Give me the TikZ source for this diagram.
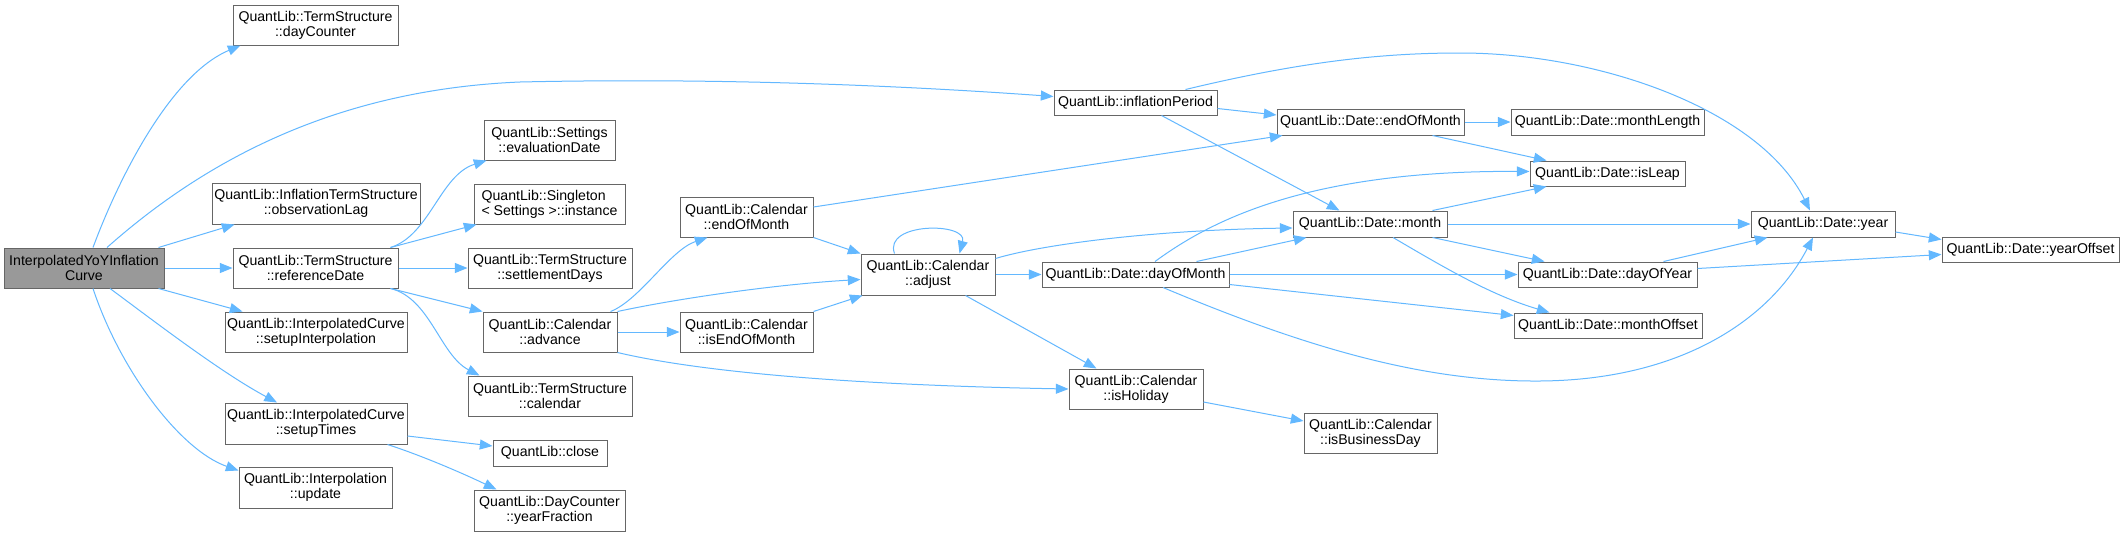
\documentclass[tikz,border=0pt]{standalone}
\usepackage{fontspec}
\setmainfont{Liberation Sans}
\usetikzlibrary{arrows.meta}
\definecolor{edgeblue}{HTML}{63B8FF}
\definecolor{boxborder}{HTML}{666666}
\definecolor{rootfill}{HTML}{999999}
\tikzset{
  box/.style={draw=boxborder, fill=white, inner sep=0pt, line width=0.75pt,
    font=\fontsize{10.6}{11.25}\selectfont, align=center},
  edge/.style={draw=edgeblue, line width=0.75pt,
    -{Triangle[length=9.5pt,width=7.5pt]}},
}
\newcommand{\bnode}[7][]{\node[box,#1,minimum width={(#5-#3)*0.75pt},minimum height={(#6-#4)*0.75pt}] (#2) at ({(#3+#5)/2},{(#4+#6)/2}) {#7};}
\begin{document}
\begin{tikzpicture}[x=0.75pt,y=-0.75pt]
\useasboundingbox[fill=white] (0,0) rectangle (2124,536);
\bnode[fill=rootfill]{root}{4}{248}{164}{288}{InterpolatedYoYInflation\\Curve}
\bnode{dc}{233}{5}{398}{45}{QuantLib::TermStructure\\::dayCounter}
\bnode{ol}{212}{183}{420}{224}{QuantLib::InflationTermStructure\\::observationLag}
\bnode{rd}{233}{248}{398}{288}{QuantLib::TermStructure\\::referenceDate}
\bnode{si}{225}{312}{407}{352}{QuantLib::InterpolatedCurve\\::setupInterpolation}
\bnode{st}{225}{403}{407}{444}{QuantLib::InterpolatedCurve\\::setupTimes}
\bnode{iu}{239}{467}{392}{508}{QuantLib::Interpolation\\::update}
\bnode{ed}{484}{120}{615}{160}{QuantLib::Settings\\::evaluationDate}
\bnode[align=left]{sg}{474}{184}{625}{224}{QuantLib::Singleton\\< Settings >::instance}
\bnode{sd}{468}{248}{632}{288}{QuantLib::TermStructure\\::settlementDays}
\bnode{ca}{483}{312}{617}{352}{QuantLib::Calendar\\::advance}
\bnode{tc}{468}{376}{632}{416}{QuantLib::TermStructure\\::calendar}
\bnode{cl}{493}{440}{607}{466}{QuantLib::close}
\bnode{yf}{474}{490}{625}{531}{QuantLib::DayCounter\\::yearFraction}
\bnode{ce}{680}{197}{813}{237}{QuantLib::Calendar\\::endOfMonth}
\bnode{ie}{680}{312}{813}{352}{QuantLib::Calendar\\::isEndOfMonth}
\bnode{ip}{1054}{90}{1217}{115}{QuantLib::inflationPeriod}
\bnode{aj}{861}{254}{995}{295}{QuantLib::Calendar\\::adjust}
\bnode{dm}{1042}{262}{1229}{287}{QuantLib::Date::dayOfMonth}
\bnode{ih}{1069}{369}{1203}{409}{QuantLib::Calendar\\::isHoliday}
\bnode{de}{1277}{109}{1464}{135}{QuantLib::Date::endOfMonth}
\bnode{ml}{1511}{109}{1704}{135}{QuantLib::Date::monthLength}
\bnode{il}{1530}{161}{1685}{186}{QuantLib::Date::isLeap}
\bnode{mo}{1293}{211}{1447}{237}{QuantLib::Date::month}
\bnode{dy}{1518}{262}{1697}{287}{QuantLib::Date::dayOfYear}
\bnode{mf}{1514}{313}{1702}{338}{QuantLib::Date::monthOffset}
\bnode{bd}{1304}{413}{1437}{453}{QuantLib::Calendar\\::isBusinessDay}
\bnode{yr}{1751}{211}{1895}{237}{QuantLib::Date::year}
\bnode{yo}{1942}{237}{2119}{262}{QuantLib::Date::yearOffset}
% root edges
\draw[edge] ([shift={(9,0)}]root.north) .. controls (118,180) and (170,75) .. ([shift={(8,0)}]dc.south west);
\draw[edge] ([shift={(23,0)}]root.north) .. controls (200,165) and (330,90) .. (520,82) .. controls (700,78) and (880,84) .. ([shift={(0,-6)}]ip.west);
\draw[edge] ([shift={(-6,0)}]root.north east) -- ([shift={(23,0)}]ol.south west);
\draw[edge] (root.east) -- (rd.west);
\draw[edge] ([shift={(-6,0)}]root.south east) -- ([shift={(18,0)}]si.north west);
\draw[edge] ([shift={(26,0)}]root.south) .. controls (150,318) and (220,372) .. ([shift={(-39,0)}]st.north);
\draw[edge] ([shift={(9,0)}]root.south) .. controls (120,370) and (180,450) .. ([shift={(0,4)}]iu.north west);
% referenceDate edges
\draw[edge] ([shift={(-8,0)}]rd.north east) .. controls (430,235) and (440,175) .. ([shift={(3,0)}]ed.south west);
\draw[edge] ([shift={(-8,0)}]rd.north east) -- ([shift={(3,0)}]sg.south west);
\draw[edge] (rd.east) -- (sd.west);
\draw[edge] ([shift={(-8,0)}]rd.south east) -- (ca.north west);
\draw[edge] ([shift={(-8,0)}]rd.south east) .. controls (430,298) and (440,355) .. ([shift={(12,0)}]tc.north west);
% setupTimes edges
\draw[edge] ([shift={(0,12.5)}]st.east) -- ([shift={(0,-7)}]cl.west);
\draw[edge] ([shift={(-20,0)}]st.south east) .. controls (420,455) and (460,472) .. ([shift={(23,0)}]yf.north west);
% advance edges
\draw[edge] ([shift={(-7,0)}]ca.north east) .. controls (640,300) and (670,250) .. ([shift={(28,0)}]ce.south west);
\draw[edge] (ca.north east) .. controls (680,298) and (780,284) .. ([shift={(0,5)}]aj.west);
\draw[edge] (ca.east) -- (ie.west);
\draw[edge] (ca.south east) .. controls (700,372) and (850,385) .. (ih.west);
% Calendar::endOfMonth / isEndOfMonth
\draw[edge] ([shift={(0,-10)}]ce.east) -- ([shift={(6,0)}]de.south west);
\draw[edge] (ce.south east) -- (aj.north west);
\draw[edge] (ie.north east) -- ([shift={(2,0)}]aj.south west);
% adjust edges
\draw[edge] ([shift={(34,0)}]aj.north west) .. controls (883,222) and (968,222) .. ([shift={(99,0)}]aj.north west);
\draw[edge] ([shift={(0,-16)}]aj.east) .. controls (1040,245) and (1150,230) .. ([shift={(0,4)}]mo.west);
\draw[edge] (aj.east) -- (dm.west);
\draw[edge] ([shift={(-30,0)}]aj.south east) -- ([shift={(28,0)}]ih.north west);
% dayOfMonth edges
\draw[edge] ([shift={(19.5,0)}]dm.north) .. controls (1205,225) and (1300,170) .. ([shift={(0,-2)}]il.west);
\draw[edge] ([shift={(-33,0)}]dm.north east) -- ([shift={(14,0)}]mo.south west);
\draw[edge] (dm.east) -- (dy.west);
\draw[edge] ([shift={(0,-3)}]dm.south east) -- ([shift={(0,-10)}]mf.west);
\draw[edge] ([shift={(27.5,0)}]dm.south) .. controls (1300,345) and (1420,382) .. (1540,381) .. controls (1680,380) and (1770,320) .. ([shift={(-10,0)}]yr.south);
% inflationPeriod edges
\draw[edge] ([shift={(0,6)}]ip.east) -- ([shift={(0,-7)}]de.west);
\draw[edge] ([shift={(26,0)}]ip.south) -- ([shift={(47,0)}]mo.north west);
\draw[edge] ([shift={(-32,0)}]ip.north east) .. controls (1300,62) and (1380,53) .. (1460,53) .. controls (1600,53) and (1760,110) .. ([shift={(-13,0)}]yr.north);
% Date::endOfMonth edges
\draw[edge] (de.east) -- (ml.west);
\draw[edge] ([shift={(-32,0)}]de.south east) -- ([shift={(17,0)}]il.north west);
% month edges
\draw[edge] ([shift={(-15,0)}]mo.north east) -- ([shift={(17,0)}]il.south west);
\draw[edge] (mo.east) -- (yr.west);
\draw[edge] ([shift={(-15,0)}]mo.south east) -- ([shift={(27,0)}]dy.north west);
\draw[edge] ([shift={(23,0)}]mo.south) .. controls (1440,265) and (1490,295) .. ([shift={(36,0)}]mf.north west);
% dayOfYear, year, isHoliday
\draw[edge] ([shift={(-34,0)}]dy.north east) -- ([shift={(17,0)}]yr.south west);
\draw[edge] ([shift={(0,-6)}]dy.east) -- ([shift={(0,5)}]yo.west);
\draw[edge] ([shift={(0,8)}]yr.east) -- ([shift={(0,-10)}]yo.west);
\draw[edge] ([shift={(0,13)}]ih.east) -- ([shift={(0,-12)}]bd.west);
\end{tikzpicture}
\end{document}
